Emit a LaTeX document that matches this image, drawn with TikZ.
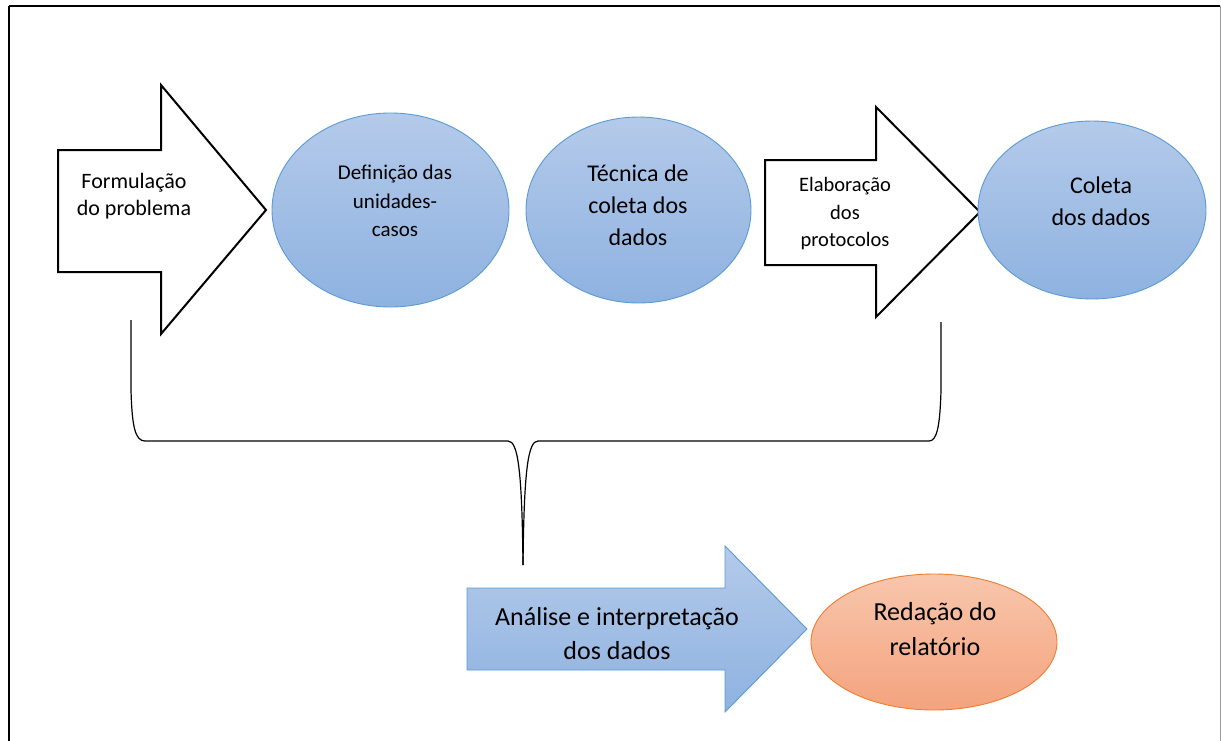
\documentclass[tikz,border=0pt]{standalone}
\usepackage{fontspec}
\setmainfont{Carlito}
\usetikzlibrary{shapes.geometric}
\definecolor{bluetop}{RGB}{180,202,234}
\definecolor{bluebot}{RGB}{142,178,224}
\definecolor{blueline}{RGB}{91,155,213}
\definecolor{orangetop}{RGB}{248,198,172}
\definecolor{orangebot}{RGB}{244,163,126}
\definecolor{orangeline}{RGB}{237,125,49}
\begin{document}
\begin{tikzpicture}[x=1pt, y=-1pt,
  whitearrow/.style={draw=black, line width=2pt, fill=white, line join=miter},
  bluearrow/.style={draw=blueline, line width=0.9pt, top color=bluetop, bottom color=bluebot},
  blueell/.style={ellipse, draw=blueline, line width=0.9pt, top color=bluetop, bottom color=bluebot, inner sep=0pt},
  orangeell/.style={ellipse, draw=orangeline, line width=0.9pt, top color=orangetop, bottom color=orangebot, inner sep=0pt},
  txt/.style={align=center, inner sep=0pt, text=black}]
  \useasboundingbox (0,0) rectangle (1221,740);
  \clip (0,0) rectangle (1221,740);
  \draw[line width=2.6pt] (9,6) -- (1219.5,6);
  \draw[line width=2.6pt] (9,6) -- (9,780);
  \draw[line width=1pt, black!40] (1220,6) -- (1220,780);

  % upper row
  \draw[whitearrow] (58,150) -- (161,150) -- (161,85) -- (266,210) -- (161,334) -- (161,272) -- (58,272) -- cycle;
  \node[txt, font=\fontsize{22}{27}\selectfont] (formul) at (134,196) {Formulação\\do problema};

  \node[blueell, minimum width=237pt, minimum height=194pt] (defin) at (390.5,210) {};
  \node[txt, font=\fontsize{21}{28.5}\selectfont] (definT) at (395,201) {Definição das\\unidades-\\casos};

  \node[blueell, minimum width=225pt, minimum height=186pt] (tecnica) at (638.5,210) {};
  \node[txt, font=\fontsize{24}{32}\selectfont] (tecnicaT) at (638,205) {Técnica de\\coleta dos\\dados};

  \draw[whitearrow] (765,160) -- (876,160) -- (876,107) -- (980,212) -- (876,317) -- (876,265) -- (765,265) -- cycle;
  \node[txt, font=\fontsize{20.5}{27.5}\selectfont] (elab) at (845,214) {Elaboração\\dos\\protocolos};

  \node[blueell, minimum width=228pt, minimum height=178pt] (coleta) at (1092,210) {};
  \node[txt, font=\fontsize{24}{32}\selectfont] (coletaT) at (1101,201) {Coleta\\dos dados};

  % brace
  \coordinate (bl) at (131,320);
  \coordinate (br) at (941,322);
  \coordinate (tip) at (523,565);
  \draw[line width=1.2pt] (bl) -- (131,390) .. controls (132,426) and (135,441) .. (145,441) -- (508,441) .. controls (518,441) and (522,470) .. (tip);
  \draw[line width=1.2pt] (br) -- (941,390) .. controls (940,426) and (937,441) .. (929,441) -- (538,441) .. controls (528,441) and (524,470) .. (tip);

  % lower row
  \draw[bluearrow] (467,588) -- (725,588) -- (725,546) -- (807,629) -- (725,712) -- (725,670) -- (467,670) -- cycle;
  \node[txt, font=\fontsize{26}{34}\selectfont] (analise) at (617,634) {Análise e interpretação\\dos dados};

  \node[orangeell, minimum width=246pt, minimum height=136pt] (redacao) at (934,642) {};
  \node[txt, font=\fontsize{26}{35}\selectfont] (redacaoT) at (935,629) {Redação do\\relatório};
\end{tikzpicture}
\end{document}
